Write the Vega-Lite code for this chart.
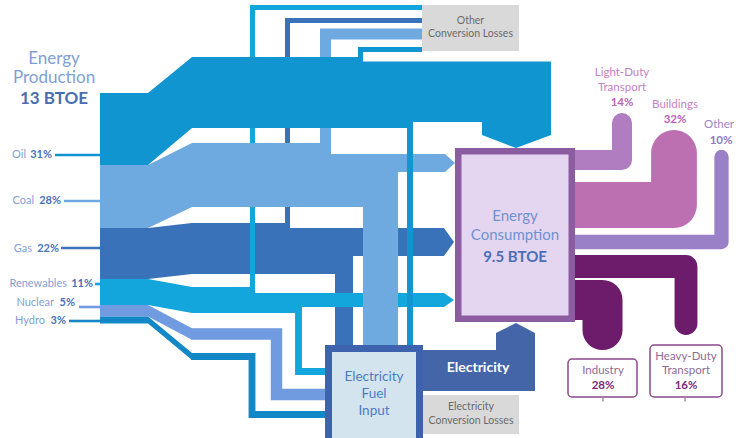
{
"$schema": "https://vega.github.io/schema/vega-lite/v6.json",
"width": 736, "height": 438, "padding": 0, "autosize": {"type": "none"},
"background": "white",
"config": {"view": {"stroke": null}},
"resolve": {"scale": {"strokeWidth": "independent"}},
"datasets": {
"bands": [
{"piece":"gas","flow":"Gas","x":100,"y":228,"y2":279},
{"piece":"gas","flow":"Gas","x":148,"y":228,"y2":279},
{"piece":"gas","flow":"Gas","x":192,"y":223,"y2":274},
{"piece":"gas","flow":"Gas","x":290,"y":223,"y2":274},
{"piece":"gas","flow":"Gas","x":290.01,"y":228,"y2":274},
{"piece":"gas","flow":"Gas","x":353,"y":228,"y2":274},
{"piece":"gas","flow":"Gas","x":353.01,"y":228,"y2":256},
{"piece":"gas","flow":"Gas","x":444,"y":228,"y2":256},
{"piece":"gas","flow":"Gas","x":454,"y":242,"y2":242},
{"piece":"ren","flow":"Renewables","x":100,"y":279,"y2":305},
{"piece":"ren","flow":"Renewables","x":148,"y":279,"y2":305},
{"piece":"ren","flow":"Renewables","x":192,"y":287,"y2":313},
{"piece":"ren","flow":"Renewables","x":255,"y":287,"y2":313},
{"piece":"ren","flow":"Renewables","x":255.01,"y":293,"y2":313},
{"piece":"ren","flow":"Renewables","x":302,"y":293,"y2":313},
{"piece":"ren","flow":"Renewables","x":302.01,"y":293,"y2":307},
{"piece":"ren","flow":"Renewables","x":444,"y":293,"y2":307},
{"piece":"ren","flow":"Renewables","x":454,"y":300,"y2":300},
{"piece":"nuc","flow":"Nuclear","x":100,"y":305,"y2":316.5},
{"piece":"nuc","flow":"Nuclear","x":148,"y":305,"y2":316.5},
{"piece":"nuc","flow":"Nuclear","x":192,"y":328.3,"y2":339.7},
{"piece":"hyd","flow":"Hydro","x":100,"y":316.5,"y2":323.4},
{"piece":"hyd","flow":"Hydro","x":148,"y":316.5,"y2":323.4},
{"piece":"hyd","flow":"Hydro","x":192,"y":353.1,"y2":359.9},
{"piece":"coal","flow":"Coal","x":100,"y":165,"y2":228},
{"piece":"coal","flow":"Coal","x":148,"y":165,"y2":228},
{"piece":"coal","flow":"Coal","x":192,"y":143,"y2":207},
{"piece":"coal","flow":"Coal","x":331,"y":143,"y2":207},
{"piece":"coal","flow":"Coal","x":331.01,"y":154,"y2":207},
{"piece":"coal","flow":"Coal","x":398,"y":154,"y2":207},
{"piece":"coal","flow":"Coal","x":398.01,"y":154,"y2":172},
{"piece":"coal","flow":"Coal","x":445,"y":154,"y2":172},
{"piece":"coal","flow":"Coal","x":455,"y":163,"y2":163},
{"piece":"oil","flow":"Oil","x":100,"y":93,"y2":165},
{"piece":"oil","flow":"Oil","x":148,"y":93,"y2":165},
{"piece":"oil","flow":"Oil","x":192,"y":57,"y2":128},
{"piece":"oil","flow":"Oil","x":363,"y":57,"y2":128},
{"piece":"oil","flow":"Oil","x":363.01,"y":61.5,"y2":128},
{"piece":"oil","flow":"Oil","x":413,"y":61.5,"y2":128},
{"piece":"oil","flow":"Oil","x":413.01,"y":61.5,"y2":122},
{"piece":"oil","flow":"Oil","x":482,"y":61.5,"y2":122},
{"piece":"oil","flow":"Oil","x":482.01,"y":61.5,"y2":135},
{"piece":"oil","flow":"Oil","x":516,"y":61.5,"y2":148},
{"piece":"oil","flow":"Oil","x":551,"y":61.5,"y2":135},
{"piece":"elec-arrow","flow":"Electricity","x":496,"y":333,"y2":391},
{"piece":"elec-arrow","flow":"Electricity","x":516,"y":323,"y2":391},
{"piece":"elec-arrow","flow":"Electricity","x":535,"y":333,"y2":391}
],
"paths": [
{"piece":"gas-other","flow":"Gas","share":2.2,"i":0,"x":287.5,"y":226},
{"piece":"gas-other","flow":"Gas","share":2.2,"i":1,"x":287.5,"y":20.5},
{"piece":"gas-other","flow":"Gas","share":2.2,"i":2,"x":422,"y":20.5},
{"piece":"ren-other","flow":"Renewables","share":2.2,"i":0,"x":252.5,"y":291},
{"piece":"ren-other","flow":"Renewables","share":2.2,"i":1,"x":252.5,"y":7.5},
{"piece":"ren-other","flow":"Renewables","share":2.2,"i":2,"x":422,"y":7.5},
{"piece":"coal-other","flow":"Coal","share":4.8,"i":0,"x":325.5,"y":150},
{"piece":"coal-other","flow":"Coal","share":4.8,"i":1,"x":325.5,"y":34},
{"piece":"coal-other","flow":"Coal","share":4.8,"i":2,"x":422,"y":34},
{"piece":"oil-other","flow":"Oil","share":2.2,"i":0,"x":360.5,"y":60},
{"piece":"oil-other","flow":"Oil","share":2.2,"i":1,"x":360.5,"y":49.5},
{"piece":"oil-other","flow":"Oil","share":2.2,"i":2,"x":422,"y":49.5},
{"piece":"oil-elec","flow":"Oil","share":2.6,"i":0,"x":410,"y":125},
{"piece":"oil-elec","flow":"Oil","share":2.6,"i":1,"x":410,"y":346},
{"piece":"ren-elec","flow":"Renewables","share":3,"i":0,"x":298.5,"y":310},
{"piece":"ren-elec","flow":"Renewables","share":3,"i":1,"x":298.5,"y":371.5},
{"piece":"ren-elec","flow":"Renewables","share":3,"i":2,"x":326,"y":371.5},
{"piece":"nuc-elec","flow":"Nuclear","share":5,"i":0,"x":191,"y":334},
{"piece":"nuc-elec","flow":"Nuclear","share":5,"i":1,"x":276.5,"y":334},
{"piece":"nuc-elec","flow":"Nuclear","share":5,"i":2,"x":276.5,"y":394.5},
{"piece":"nuc-elec","flow":"Nuclear","share":5,"i":3,"x":326,"y":394.5},
{"piece":"hyd-elec","flow":"Hydro","share":3,"i":0,"x":191,"y":356.5},
{"piece":"hyd-elec","flow":"Hydro","share":3,"i":1,"x":252,"y":356.5},
{"piece":"hyd-elec","flow":"Hydro","share":3,"i":2,"x":252,"y":414.5},
{"piece":"hyd-elec","flow":"Hydro","share":3,"i":3,"x":326,"y":414.5}
],
"outputs": [
{"flow":"Light-Duty Transport","share":14,"i":0,"x":560,"y":160},
{"flow":"Light-Duty Transport","share":14,"i":1,"x":622,"y":160},
{"flow":"Light-Duty Transport","share":14,"i":2,"x":622,"y":123},
{"flow":"Buildings","share":32,"i":0,"x":560,"y":205},
{"flow":"Buildings","share":32,"i":1,"x":674,"y":205},
{"flow":"Buildings","share":32,"i":2,"x":674,"y":153},
{"flow":"Other","share":10,"i":0,"x":560,"y":242},
{"flow":"Other","share":10,"i":1,"x":721.5,"y":242},
{"flow":"Other","share":10,"i":2,"x":721.5,"y":157},
{"flow":"Heavy-Duty Transport","share":16,"i":0,"x":560,"y":266.5},
{"flow":"Heavy-Duty Transport","share":16,"i":1,"x":686,"y":266.5},
{"flow":"Heavy-Duty Transport","share":16,"i":2,"x":686,"y":323.5},
{"flow":"Industry","share":28,"i":0,"x":560,"y":300},
{"flow":"Industry","share":28,"i":1,"x":602.5,"y":300},
{"flow":"Industry","share":28,"i":2,"x":602.5,"y":330}
],
"rects": [
{"piece":"gas-down","flow":"Gas","x":335,"x2":353,"y":250,"y2":346},
{"piece":"coal-down","flow":"Coal","x":363,"x2":398,"y":200,"y2":346},
{"piece":"elec-band","flow":"Electricity","x":419,"x2":535,"y":350,"y2":391}
],
"leaders": [
{"flow":"Oil","x":55,"x2":101,"y":155},
{"flow":"Coal","x":64,"x2":101,"y":201},
{"flow":"Gas","x":61,"x2":101,"y":248},
{"flow":"Renewables","x":95,"x2":101,"y":284},
{"flow":"Nuclear","x":79,"x2":101,"y":307},
{"flow":"Hydro","x":69,"x2":101,"y":321}
],
"boxes": [
{"box":"Electricity Fuel Input","x":328.5,"x2":419.5,"y":348.5,"y2":442},
{"box":"Energy Consumption","x":458.25,"x2":571.75,"y":151.25,"y2":318.75},
{"box":"Other Conversion Losses","x":422,"x2":519,"y":5,"y2":51},
{"box":"Electricity Conversion Losses","x":423,"x2":519,"y":395,"y2":434},
{"box":"Industry","x":568,"x2":637,"y":359,"y2":397},
{"box":"Heavy-Duty Transport","x":650,"x2":722,"y":345,"y2":397}
],
"ticks": [
{"box":"Industry","x":603,"y":398,"y2":401.5},
{"box":"Heavy-Duty Transport","x":685,"y":398,"y2":401.5}
],
"texts": [
{"role":"prodTitle","text":"Energy","x":54,"y":59},
{"role":"prodTitle","text":"Production","x":54,"y":78},
{"role":"prodValue","text":"13 BTOE","x":54,"y":99},
{"role":"srcName","text":"Oil","x":26,"y":155},
{"role":"srcName","text":"Coal","x":34,"y":201},
{"role":"srcName","text":"Gas","x":32,"y":249},
{"role":"srcName","text":"Renewables","x":67,"y":284},
{"role":"srcName","text":"Nuclear","x":54,"y":303},
{"role":"srcName","text":"Hydro","x":45,"y":321},
{"role":"srcPct","text":"31%","x":52,"y":155},
{"role":"srcPct","text":"28%","x":61,"y":201},
{"role":"srcPct","text":"22%","x":59,"y":249},
{"role":"srcPct","text":"11%","x":93,"y":284},
{"role":"srcPct","text":"5%","x":75,"y":303},
{"role":"srcPct","text":"3%","x":66,"y":321},
{"role":"consTitle","text":"Energy","x":515,"y":216},
{"role":"consTitle","text":"Consumption","x":515,"y":235},
{"role":"consValue","text":"9.5 BTOE","x":515,"y":257},
{"role":"fuel","text":"Electricity","x":374,"y":377},
{"role":"fuel","text":"Fuel","x":374,"y":394},
{"role":"fuel","text":"Input","x":374,"y":411},
{"role":"elec","text":"Electricity","x":478,"y":368},
{"role":"loss","text":"Other","x":470.5,"y":21},
{"role":"loss","text":"Conversion Losses","x":470.5,"y":34},
{"role":"loss","text":"Electricity","x":471,"y":407},
{"role":"loss","text":"Conversion Losses","x":471,"y":421},
{"role":"outName","text":"Light-Duty","x":622,"y":73},
{"role":"outName","text":"Transport","x":622,"y":88},
{"role":"outName","text":"Buildings","x":675,"y":105},
{"role":"outPct","text":"14%","x":622,"y":103},
{"role":"outPct","text":"32%","x":675,"y":120},
{"role":"otherName","text":"Other","x":719,"y":125},
{"role":"otherPct","text":"10%","x":721,"y":141},
{"role":"boxName","text":"Industry","x":603,"y":371},
{"role":"boxName","text":"Heavy-Duty","x":686,"y":357},
{"role":"boxName","text":"Transport","x":686,"y":371},
{"role":"boxPct","text":"28%","x":603,"y":386},
{"role":"boxPct","text":"16%","x":686,"y":386}
]
},
"layer": [
{"data":{"name":"paths"},"transform":[{"filter":{"field":"piece","oneOf":["gas-other"]}}],
 "mark":{"type":"line","strokeCap":"butt","strokeJoin":"miter"},
 "encoding":{"x":{"field":"x","type":"quantitative","scale":{"domain":[0,736],"nice":false,"zero":false},"axis":null},
  "y":{"field":"y","type":"quantitative","scale":{"domain":[0,438],"nice":false,"zero":false,"reverse":true},"axis":null},
  "order":{"field":"i","type":"quantitative"},"detail":{"field":"piece"},
  "color":{"field":"flow","type":"nominal","scale":{"domain":["Oil","Coal","Gas","Renewables","Nuclear","Hydro","Electricity","Light-Duty Transport","Buildings","Other","Heavy-Duty Transport","Industry"],"range":["#1195d0","#6eaae0","#3a72b9","#12a6dd","#709be0","#1487c6","#4466a9","#b07dc1","#bc70b1","#9a81c7","#6d1b6b","#6d1b6b"]},"legend":null},
  "strokeWidth":{"field":"share","type":"quantitative","scale":{"domain":[0,100],"range":[0,229]},"legend":null}}},
{"data":{"name":"bands"},"transform":[{"filter":{"field":"piece","oneOf":["gas"]}}],
 "mark":{"type":"area","orient":"vertical"},
 "encoding":{"x":{"field":"x","type":"quantitative","scale":{"domain":[0,736],"nice":false,"zero":false},"axis":null},
  "y":{"field":"y","type":"quantitative","stack":null,"scale":{"domain":[0,438],"nice":false,"zero":false,"reverse":true},"axis":null},
  "y2":{"field":"y2"},"detail":{"field":"piece"},
  "color":{"field":"flow","type":"nominal","legend":null}}},
{"data":{"name":"rects"},"transform":[{"filter":{"field":"piece","oneOf":["gas-down"]}}],
 "mark":{"type":"rect"},
 "encoding":{"x":{"field":"x","type":"quantitative","scale":{"domain":[0,736],"nice":false,"zero":false},"axis":null},
  "x2":{"field":"x2"},
  "y":{"field":"y","type":"quantitative","scale":{"domain":[0,438],"nice":false,"zero":false,"reverse":true},"axis":null},
  "y2":{"field":"y2"},
  "color":{"field":"flow","type":"nominal","legend":null}}},
{"data":{"name":"paths"},"transform":[{"filter":{"field":"piece","oneOf":["ren-other"]}}],
 "mark":{"type":"line","strokeCap":"butt","strokeJoin":"miter"},
 "encoding":{"x":{"field":"x","type":"quantitative","scale":{"domain":[0,736],"nice":false,"zero":false},"axis":null},
  "y":{"field":"y","type":"quantitative","scale":{"domain":[0,438],"nice":false,"zero":false,"reverse":true},"axis":null},
  "order":{"field":"i","type":"quantitative"},"detail":{"field":"piece"},
  "color":{"field":"flow","type":"nominal","legend":null},
  "strokeWidth":{"field":"share","type":"quantitative","scale":{"domain":[0,100],"range":[0,229]},"legend":null}}},
{"data":{"name":"bands"},"transform":[{"filter":{"field":"piece","oneOf":["ren","nuc","hyd"]}}],
 "mark":{"type":"area","orient":"vertical"},
 "encoding":{"x":{"field":"x","type":"quantitative","scale":{"domain":[0,736],"nice":false,"zero":false},"axis":null},
  "y":{"field":"y","type":"quantitative","stack":null,"scale":{"domain":[0,438],"nice":false,"zero":false,"reverse":true},"axis":null},
  "y2":{"field":"y2"},"detail":{"field":"piece"},
  "color":{"field":"flow","type":"nominal","legend":null}}},
{"data":{"name":"paths"},"transform":[{"filter":{"field":"piece","oneOf":["ren-elec","nuc-elec","hyd-elec"]}}],
 "mark":{"type":"line","strokeCap":"butt","strokeJoin":"miter"},
 "encoding":{"x":{"field":"x","type":"quantitative","scale":{"domain":[0,736],"nice":false,"zero":false},"axis":null},
  "y":{"field":"y","type":"quantitative","scale":{"domain":[0,438],"nice":false,"zero":false,"reverse":true},"axis":null},
  "order":{"field":"i","type":"quantitative"},"detail":{"field":"piece"},
  "color":{"field":"flow","type":"nominal","legend":null},
  "strokeWidth":{"field":"share","type":"quantitative","scale":{"domain":[0,100],"range":[0,229]},"legend":null}}},
{"data":{"name":"paths"},"transform":[{"filter":{"field":"piece","oneOf":["coal-other"]}}],
 "mark":{"type":"line","strokeCap":"butt","strokeJoin":"miter"},
 "encoding":{"x":{"field":"x","type":"quantitative","scale":{"domain":[0,736],"nice":false,"zero":false},"axis":null},
  "y":{"field":"y","type":"quantitative","scale":{"domain":[0,438],"nice":false,"zero":false,"reverse":true},"axis":null},
  "order":{"field":"i","type":"quantitative"},"detail":{"field":"piece"},
  "color":{"field":"flow","type":"nominal","legend":null},
  "strokeWidth":{"field":"share","type":"quantitative","scale":{"domain":[0,100],"range":[0,229]},"legend":null}}},
{"data":{"name":"bands"},"transform":[{"filter":{"field":"piece","oneOf":["coal"]}}],
 "mark":{"type":"area","orient":"vertical"},
 "encoding":{"x":{"field":"x","type":"quantitative","scale":{"domain":[0,736],"nice":false,"zero":false},"axis":null},
  "y":{"field":"y","type":"quantitative","stack":null,"scale":{"domain":[0,438],"nice":false,"zero":false,"reverse":true},"axis":null},
  "y2":{"field":"y2"},"detail":{"field":"piece"},
  "color":{"field":"flow","type":"nominal","legend":null}}},
{"data":{"name":"rects"},"transform":[{"filter":{"field":"piece","oneOf":["coal-down"]}}],
 "mark":{"type":"rect"},
 "encoding":{"x":{"field":"x","type":"quantitative","scale":{"domain":[0,736],"nice":false,"zero":false},"axis":null},
  "x2":{"field":"x2"},
  "y":{"field":"y","type":"quantitative","scale":{"domain":[0,438],"nice":false,"zero":false,"reverse":true},"axis":null},
  "y2":{"field":"y2"},
  "color":{"field":"flow","type":"nominal","legend":null}}},
{"data":{"name":"paths"},"transform":[{"filter":{"field":"piece","oneOf":["oil-other"]}}],
 "mark":{"type":"line","strokeCap":"butt","strokeJoin":"miter"},
 "encoding":{"x":{"field":"x","type":"quantitative","scale":{"domain":[0,736],"nice":false,"zero":false},"axis":null},
  "y":{"field":"y","type":"quantitative","scale":{"domain":[0,438],"nice":false,"zero":false,"reverse":true},"axis":null},
  "order":{"field":"i","type":"quantitative"},"detail":{"field":"piece"},
  "color":{"field":"flow","type":"nominal","legend":null},
  "strokeWidth":{"field":"share","type":"quantitative","scale":{"domain":[0,100],"range":[0,229]},"legend":null}}},
{"data":{"name":"bands"},"transform":[{"filter":{"field":"piece","oneOf":["oil"]}}],
 "mark":{"type":"area","orient":"vertical"},
 "encoding":{"x":{"field":"x","type":"quantitative","scale":{"domain":[0,736],"nice":false,"zero":false},"axis":null},
  "y":{"field":"y","type":"quantitative","stack":null,"scale":{"domain":[0,438],"nice":false,"zero":false,"reverse":true},"axis":null},
  "y2":{"field":"y2"},"detail":{"field":"piece"},
  "color":{"field":"flow","type":"nominal","legend":null}}},
{"data":{"name":"paths"},"transform":[{"filter":{"field":"piece","oneOf":["oil-elec"]}}],
 "mark":{"type":"line","strokeCap":"butt","strokeJoin":"miter"},
 "encoding":{"x":{"field":"x","type":"quantitative","scale":{"domain":[0,736],"nice":false,"zero":false},"axis":null},
  "y":{"field":"y","type":"quantitative","scale":{"domain":[0,438],"nice":false,"zero":false,"reverse":true},"axis":null},
  "order":{"field":"i","type":"quantitative"},"detail":{"field":"piece"},
  "color":{"field":"flow","type":"nominal","legend":null},
  "strokeWidth":{"field":"share","type":"quantitative","scale":{"domain":[0,100],"range":[0,229]},"legend":null}}},
{"data":{"name":"leaders"},
 "mark":{"type":"rule","strokeWidth":2.6},
 "encoding":{"x":{"field":"x","type":"quantitative","scale":{"domain":[0,736],"nice":false,"zero":false},"axis":null},
  "x2":{"field":"x2"},
  "y":{"field":"y","type":"quantitative","scale":{"domain":[0,438],"nice":false,"zero":false,"reverse":true},"axis":null},
  "color":{"field":"flow","type":"nominal","legend":null}}},
{"data":{"name":"outputs"},
 "mark":{"type":"line","strokeCap":"round","strokeJoin":"round"},
 "encoding":{"x":{"field":"x","type":"quantitative","scale":{"domain":[0,736],"nice":false,"zero":false},"axis":null},
  "y":{"field":"y","type":"quantitative","scale":{"domain":[0,438],"nice":false,"zero":false,"reverse":true},"axis":null},
  "order":{"field":"i","type":"quantitative"},"detail":{"field":"flow"},
  "color":{"field":"flow","type":"nominal","legend":null},
  "strokeWidth":{"field":"share","type":"quantitative","scale":{"domain":[0,100],"range":[0,143]},"legend":null}}},
{"data":{"name":"rects"},"transform":[{"filter":{"field":"piece","oneOf":["elec-band"]}}],
 "mark":{"type":"rect"},
 "encoding":{"x":{"field":"x","type":"quantitative","scale":{"domain":[0,736],"nice":false,"zero":false},"axis":null},
  "x2":{"field":"x2"},
  "y":{"field":"y","type":"quantitative","scale":{"domain":[0,438],"nice":false,"zero":false,"reverse":true},"axis":null},
  "y2":{"field":"y2"},
  "color":{"field":"flow","type":"nominal","legend":null}}},
{"data":{"name":"bands"},"transform":[{"filter":{"field":"piece","oneOf":["elec-arrow"]}}],
 "mark":{"type":"area","orient":"vertical"},
 "encoding":{"x":{"field":"x","type":"quantitative","scale":{"domain":[0,736],"nice":false,"zero":false},"axis":null},
  "y":{"field":"y","type":"quantitative","stack":null,"scale":{"domain":[0,438],"nice":false,"zero":false,"reverse":true},"axis":null},
  "y2":{"field":"y2"},"detail":{"field":"piece"},
  "color":{"field":"flow","type":"nominal","legend":null}}},
{"data":{"name":"boxes"},"transform":[{"filter":{"field":"box","equal":"Electricity Fuel Input"}}],
 "mark":{"type":"rect","fill":"#d4e4ef","stroke":"#3e63ae","strokeWidth":7},
 "encoding":{"x":{"field":"x","type":"quantitative","scale":{"domain":[0,736],"nice":false,"zero":false},"axis":null},
  "x2":{"field":"x2"},
  "y":{"field":"y","type":"quantitative","scale":{"domain":[0,438],"nice":false,"zero":false,"reverse":true},"axis":null},
  "y2":{"field":"y2"}}},
{"data":{"name":"boxes"},"transform":[{"filter":{"field":"box","equal":"Energy Consumption"}}],
 "mark":{"type":"rect","fill":"#e4d6f0","stroke":"#8b5c9f","strokeWidth":6.5},
 "encoding":{"x":{"field":"x","type":"quantitative","scale":{"domain":[0,736],"nice":false,"zero":false},"axis":null},
  "x2":{"field":"x2"},
  "y":{"field":"y","type":"quantitative","scale":{"domain":[0,438],"nice":false,"zero":false,"reverse":true},"axis":null},
  "y2":{"field":"y2"}}},
{"data":{"name":"boxes"},"transform":[{"filter":{"field":"box","oneOf":["Other Conversion Losses","Electricity Conversion Losses"]}}],
 "mark":{"type":"rect","fill":"#d9d9d9"},
 "encoding":{"x":{"field":"x","type":"quantitative","scale":{"domain":[0,736],"nice":false,"zero":false},"axis":null},
  "x2":{"field":"x2"},
  "y":{"field":"y","type":"quantitative","scale":{"domain":[0,438],"nice":false,"zero":false,"reverse":true},"axis":null},
  "y2":{"field":"y2"}}},
{"data":{"name":"boxes"},"transform":[{"filter":{"field":"box","oneOf":["Industry","Heavy-Duty Transport"]}}],
 "mark":{"type":"rect","fill":"white","stroke":"#8a4a8c","strokeWidth":1.5,"cornerRadius":4},
 "encoding":{"x":{"field":"x","type":"quantitative","scale":{"domain":[0,736],"nice":false,"zero":false},"axis":null},
  "x2":{"field":"x2"},
  "y":{"field":"y","type":"quantitative","scale":{"domain":[0,438],"nice":false,"zero":false,"reverse":true},"axis":null},
  "y2":{"field":"y2"}}},
{"data":{"name":"ticks"},
 "mark":{"type":"rule","stroke":"#8a4a8c","strokeWidth":1},
 "encoding":{"x":{"field":"x","type":"quantitative","scale":{"domain":[0,736],"nice":false,"zero":false},"axis":null},
  "y":{"field":"y","type":"quantitative","scale":{"domain":[0,438],"nice":false,"zero":false,"reverse":true},"axis":null},
  "y2":{"field":"y2"}}},
{"data":{"name":"texts"},"transform":[{"filter":{"field":"role","equal":"prodTitle"}}],
 "mark":{"type":"text","font":"Lato","fontSize":17,"color":"#7f9fd5","align":"center","baseline":"middle"},
 "encoding":{"x":{"field":"x","type":"quantitative","scale":{"domain":[0,736],"nice":false,"zero":false},"axis":null},
  "y":{"field":"y","type":"quantitative","scale":{"domain":[0,438],"nice":false,"zero":false,"reverse":true},"axis":null},
  "text":{"field":"text"}}},
{"data":{"name":"texts"},"transform":[{"filter":{"field":"role","equal":"prodValue"}}],
 "mark":{"type":"text","font":"Lato","fontSize":17,"fontWeight":"bold","color":"#4a6db0","align":"center","baseline":"middle"},
 "encoding":{"x":{"field":"x","type":"quantitative","scale":{"domain":[0,736],"nice":false,"zero":false},"axis":null},
  "y":{"field":"y","type":"quantitative","scale":{"domain":[0,438],"nice":false,"zero":false,"reverse":true},"axis":null},
  "text":{"field":"text"}}},
{"data":{"name":"texts"},"transform":[{"filter":{"field":"role","equal":"srcName"}}],
 "mark":{"type":"text","font":"Lato","fontSize":11,"color":"#7f9fd5","align":"right","baseline":"middle"},
 "encoding":{"x":{"field":"x","type":"quantitative","scale":{"domain":[0,736],"nice":false,"zero":false},"axis":null},
  "y":{"field":"y","type":"quantitative","scale":{"domain":[0,438],"nice":false,"zero":false,"reverse":true},"axis":null},
  "text":{"field":"text"}}},
{"data":{"name":"texts"},"transform":[{"filter":{"field":"role","equal":"srcPct"}}],
 "mark":{"type":"text","font":"Lato","fontSize":11,"fontWeight":"bold","color":"#4a72b8","align":"right","baseline":"middle"},
 "encoding":{"x":{"field":"x","type":"quantitative","scale":{"domain":[0,736],"nice":false,"zero":false},"axis":null},
  "y":{"field":"y","type":"quantitative","scale":{"domain":[0,438],"nice":false,"zero":false,"reverse":true},"axis":null},
  "text":{"field":"text"}}},
{"data":{"name":"texts"},"transform":[{"filter":{"field":"role","equal":"consTitle"}}],
 "mark":{"type":"text","font":"Lato","fontSize":15,"color":"#6f92d2","align":"center","baseline":"middle"},
 "encoding":{"x":{"field":"x","type":"quantitative","scale":{"domain":[0,736],"nice":false,"zero":false},"axis":null},
  "y":{"field":"y","type":"quantitative","scale":{"domain":[0,438],"nice":false,"zero":false,"reverse":true},"axis":null},
  "text":{"field":"text"}}},
{"data":{"name":"texts"},"transform":[{"filter":{"field":"role","equal":"consValue"}}],
 "mark":{"type":"text","font":"Lato","fontSize":15,"fontWeight":"bold","color":"#4a6fb8","align":"center","baseline":"middle"},
 "encoding":{"x":{"field":"x","type":"quantitative","scale":{"domain":[0,736],"nice":false,"zero":false},"axis":null},
  "y":{"field":"y","type":"quantitative","scale":{"domain":[0,438],"nice":false,"zero":false,"reverse":true},"axis":null},
  "text":{"field":"text"}}},
{"data":{"name":"texts"},"transform":[{"filter":{"field":"role","equal":"fuel"}}],
 "mark":{"type":"text","font":"Lato","fontSize":13.5,"color":"#4a7cc4","align":"center","baseline":"middle"},
 "encoding":{"x":{"field":"x","type":"quantitative","scale":{"domain":[0,736],"nice":false,"zero":false},"axis":null},
  "y":{"field":"y","type":"quantitative","scale":{"domain":[0,438],"nice":false,"zero":false,"reverse":true},"axis":null},
  "text":{"field":"text"}}},
{"data":{"name":"texts"},"transform":[{"filter":{"field":"role","equal":"elec"}}],
 "mark":{"type":"text","font":"Lato","fontSize":14,"fontWeight":"bold","color":"#ffffff","align":"center","baseline":"middle"},
 "encoding":{"x":{"field":"x","type":"quantitative","scale":{"domain":[0,736],"nice":false,"zero":false},"axis":null},
  "y":{"field":"y","type":"quantitative","scale":{"domain":[0,438],"nice":false,"zero":false,"reverse":true},"axis":null},
  "text":{"field":"text"}}},
{"data":{"name":"texts"},"transform":[{"filter":{"field":"role","equal":"loss"}}],
 "mark":{"type":"text","font":"Lato","fontSize":10.5,"color":"#6b6b6b","align":"center","baseline":"middle"},
 "encoding":{"x":{"field":"x","type":"quantitative","scale":{"domain":[0,736],"nice":false,"zero":false},"axis":null},
  "y":{"field":"y","type":"quantitative","scale":{"domain":[0,438],"nice":false,"zero":false,"reverse":true},"axis":null},
  "text":{"field":"text"}}},
{"data":{"name":"texts"},"transform":[{"filter":{"field":"role","equal":"outName"}}],
 "mark":{"type":"text","font":"Lato","fontSize":11.5,"color":"#c47ec5","align":"center","baseline":"middle"},
 "encoding":{"x":{"field":"x","type":"quantitative","scale":{"domain":[0,736],"nice":false,"zero":false},"axis":null},
  "y":{"field":"y","type":"quantitative","scale":{"domain":[0,438],"nice":false,"zero":false,"reverse":true},"axis":null},
  "text":{"field":"text"}}},
{"data":{"name":"texts"},"transform":[{"filter":{"field":"role","equal":"outPct"}}],
 "mark":{"type":"text","font":"Lato","fontSize":11.5,"fontWeight":"bold","color":"#b865b6","align":"center","baseline":"middle"},
 "encoding":{"x":{"field":"x","type":"quantitative","scale":{"domain":[0,736],"nice":false,"zero":false},"axis":null},
  "y":{"field":"y","type":"quantitative","scale":{"domain":[0,438],"nice":false,"zero":false,"reverse":true},"axis":null},
  "text":{"field":"text"}}},
{"data":{"name":"texts"},"transform":[{"filter":{"field":"role","equal":"otherName"}}],
 "mark":{"type":"text","font":"Lato","fontSize":11.5,"color":"#9b84c9","align":"center","baseline":"middle"},
 "encoding":{"x":{"field":"x","type":"quantitative","scale":{"domain":[0,736],"nice":false,"zero":false},"axis":null},
  "y":{"field":"y","type":"quantitative","scale":{"domain":[0,438],"nice":false,"zero":false,"reverse":true},"axis":null},
  "text":{"field":"text"}}},
{"data":{"name":"texts"},"transform":[{"filter":{"field":"role","equal":"otherPct"}}],
 "mark":{"type":"text","font":"Lato","fontSize":11.5,"fontWeight":"bold","color":"#9077c0","align":"center","baseline":"middle"},
 "encoding":{"x":{"field":"x","type":"quantitative","scale":{"domain":[0,736],"nice":false,"zero":false},"axis":null},
  "y":{"field":"y","type":"quantitative","scale":{"domain":[0,438],"nice":false,"zero":false,"reverse":true},"axis":null},
  "text":{"field":"text"}}},
{"data":{"name":"texts"},"transform":[{"filter":{"field":"role","equal":"boxName"}}],
 "mark":{"type":"text","font":"Lato","fontSize":11.5,"color":"#8e6c96","align":"center","baseline":"middle"},
 "encoding":{"x":{"field":"x","type":"quantitative","scale":{"domain":[0,736],"nice":false,"zero":false},"axis":null},
  "y":{"field":"y","type":"quantitative","scale":{"domain":[0,438],"nice":false,"zero":false,"reverse":true},"axis":null},
  "text":{"field":"text"}}},
{"data":{"name":"texts"},"transform":[{"filter":{"field":"role","equal":"boxPct"}}],
 "mark":{"type":"text","font":"Lato","fontSize":11.5,"fontWeight":"bold","color":"#7a2a78","align":"center","baseline":"middle"},
 "encoding":{"x":{"field":"x","type":"quantitative","scale":{"domain":[0,736],"nice":false,"zero":false},"axis":null},
  "y":{"field":"y","type":"quantitative","scale":{"domain":[0,438],"nice":false,"zero":false,"reverse":true},"axis":null},
  "text":{"field":"text"}}}
]
}
